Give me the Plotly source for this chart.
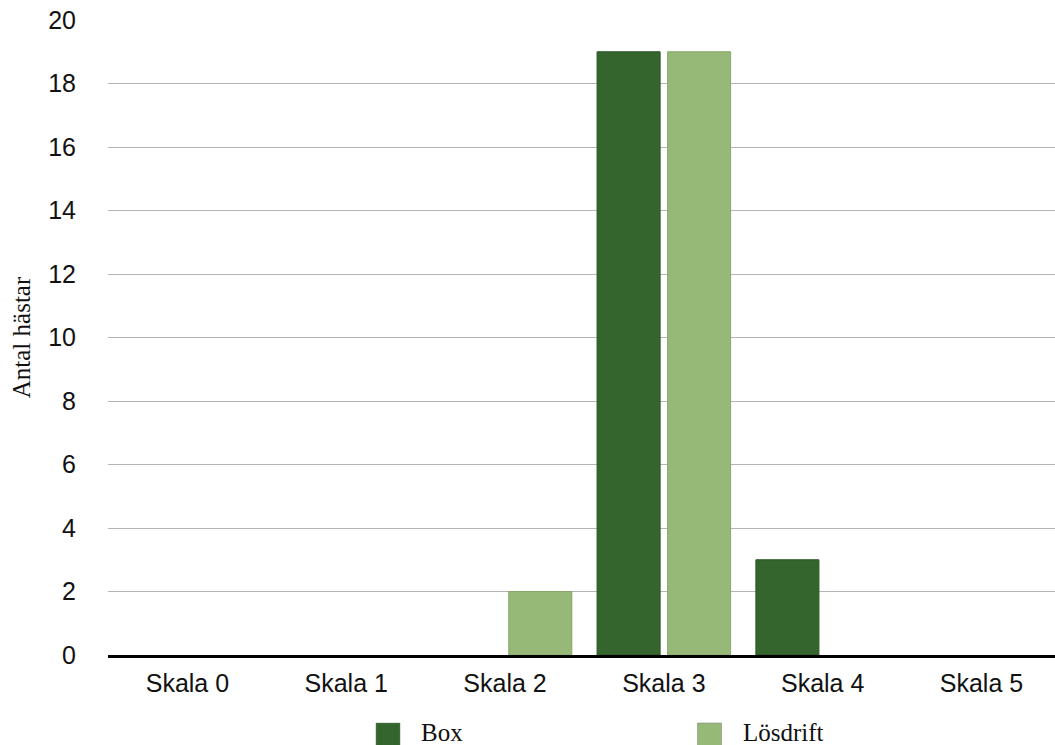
import plotly.graph_objects as go

categories = ["Skala 0", "Skala 1", "Skala 2", "Skala 3", "Skala 4", "Skala 5"]
box_values = [0, 0, 0, 19, 3, 0]
losdrift_values = [0, 0, 2, 19, 0, 0]
series_names = ["Box", "Lösdrift"]
colors = ["#33652c", "#96b977"]
line_colors = ["#2b5624", "#86a86a"]
y_ticks = [0, 2, 4, 6, 8, 10, 12, 14, 16, 18, 20]

fig = go.Figure()
for name, vals, col, lc in zip(series_names, [box_values, losdrift_values], colors, line_colors):
    fig.add_trace(go.Bar(x=list(range(len(categories))), y=vals, name=name,
                         marker=dict(color=col, line=dict(color=lc, width=[1 if v > 0 else 0 for v in vals])),
                         showlegend=False))

# custom legend (large squares like the reference)
leg_x = [0.283, 0.6225]
for i, (name, col) in enumerate(zip(series_names, colors)):
    x0 = leg_x[i]
    fig.add_shape(type="rect", xref="paper", yref="paper", x0=x0, x1=x0 + 24/947,
                  y0=-0.145, y1=-0.1071,
                  fillcolor=col, line=dict(color="#7a7a7a", width=0.5))
    fig.add_annotation(xref="paper", yref="paper", x=x0 + 43/947, y=-0.1225, text=name,
                       showarrow=False, xanchor="left", yanchor="middle",
                       font=dict(family="Liberation Serif", size=25, color="#111"))

fig.update_layout(
    width=1055, height=745,
    margin=dict(l=108, r=0, t=20, b=90),
    paper_bgcolor="white", plot_bgcolor="white",
    barmode="group", bargap=0.112, bargroupgap=0.106,
    font=dict(family="Liberation Sans", size=25, color="#111"),
    xaxis=dict(range=[-0.5, 5.463], tickvals=list(range(len(categories))), ticktext=categories,
               showgrid=False, showline=True, linecolor="black", linewidth=2.5, ticks="",
               tickfont=dict(family="Liberation Sans", size=25), ticklabelstandoff=4),
    yaxis=dict(range=[0, 20], tickvals=y_ticks, showgrid=True, gridcolor="#b5b5b5", gridwidth=1.3,
               zeroline=False, showline=False, ticks="", ticklabelstandoff=31,
               tickfont=dict(family="Liberation Sans", size=25),
               title=dict(text="Antal hästar", font=dict(family="Liberation Serif", size=25), standoff=10)),
)
fig.write_html("out.html")
